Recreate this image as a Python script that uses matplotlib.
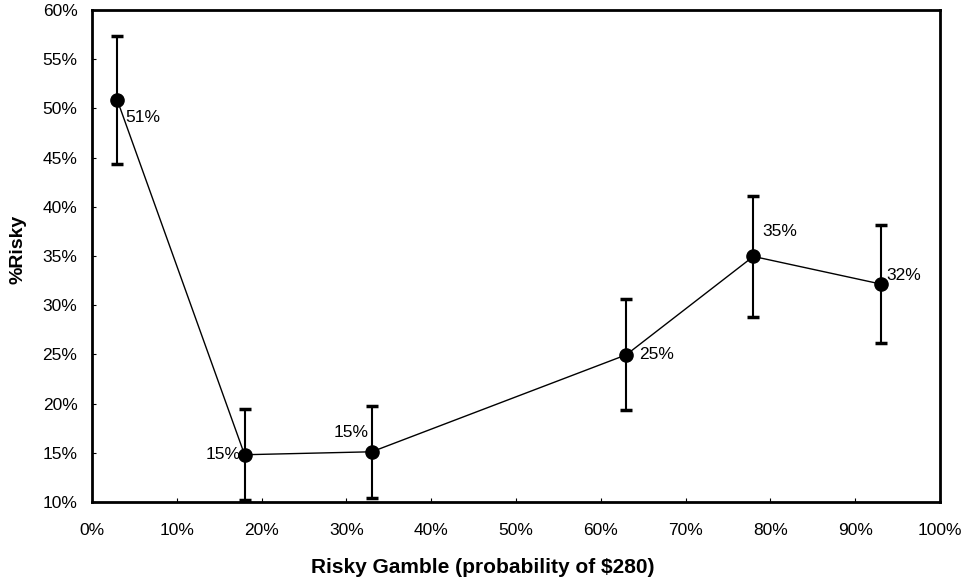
import matplotlib.pyplot as plt
from matplotlib.ticker import FuncFormatter

plt.rcParams['font.family'] = ['Liberation Sans', 'DejaVu Sans']

prob = [3, 18, 33, 63, 78, 93]
risky = [50.8, 14.8, 15.1, 24.95, 34.95, 32.15]
err = [6.5, 4.6, 4.7, 5.65, 6.15, 6.0]
labels = ["51%", "15%", "15%", "25%", "35%", "32%"]
# label offsets in points (dx, dy) and alignment
offs = [(6, -12, 'left'), (-2.5, 0, 'right'), (-2, 14, 'right'),
        (9, 0, 'left'), (6.5, 18, 'left'), (4, 6, 'left')]

fig = plt.figure(figsize=(9.68, 5.82), dpi=100)
ax = fig.add_axes([0.095, 0.1375, 0.876, 0.8455])

ax.errorbar(prob, risky, yerr=err, fmt='none', ecolor='black',
            elinewidth=1.5, capsize=4, capthick=2.5)
ax.plot(prob, risky, color='black', lw=1, marker='o', markersize=9.5)

for x, y, t, (dx, dy, ha) in zip(prob, risky, labels, offs):
    ax.annotate(t, (x, y), xytext=(dx, dy), textcoords='offset points',
                ha=ha, va='center', fontsize=12.5)

ax.set_xlim(0, 100)
ax.set_ylim(10, 60)
ax.set_xticks(range(0, 101, 10))
ax.set_yticks(range(10, 61, 5))
pct = FuncFormatter(lambda v, p: f"{int(v)}%")
ax.xaxis.set_major_formatter(pct)
ax.yaxis.set_major_formatter(pct)
ax.tick_params(direction='in', length=3, labelsize=12.5)
ax.tick_params(axis='y', pad=10.5)
ax.tick_params(axis='x', pad=15)
for s in ax.spines.values():
    s.set_linewidth(2)

ax.set_xlabel("Risky Gamble (probability of $280)", fontsize=15,
              fontweight='bold')
ax.xaxis.set_label_coords(0.461, -0.113)
ax.set_ylabel("%Risky", fontsize=14, fontweight='bold')
ax.yaxis.set_label_coords(-0.077, 0.514)

fig.savefig("out.png", dpi=100)
